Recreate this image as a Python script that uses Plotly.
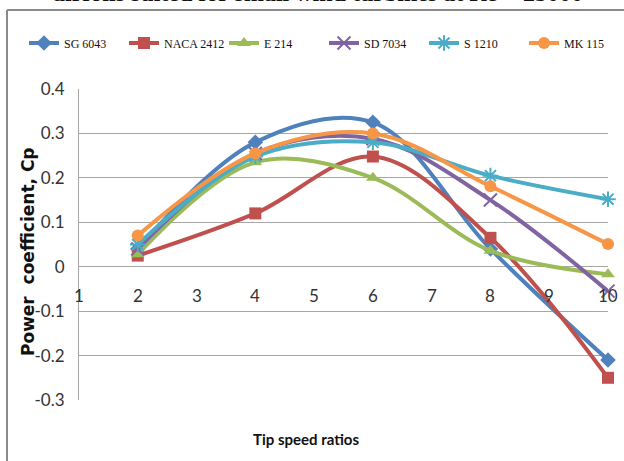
import plotly.graph_objects as go

# Tip speed ratios and power coefficient per airfoil
tsr = [2, 4, 6, 8, 10]
sg6043 = [0.04, 0.28, 0.325, 0.04, -0.21]
naca2412 = [0.025, 0.12, 0.248, 0.065, -0.25]
e214 = [0.028, 0.235, 0.20, 0.036, -0.017]
sd7034 = [0.04, 0.255, 0.288, 0.15, -0.055]
s1210 = [0.05, 0.248, 0.28, 0.205, 0.152]
mk115 = [0.07, 0.255, 0.30, 0.181, 0.051]

series = [
    ("SG 6043", sg6043, "#4F81BD", "diamond"),
    ("NACA 2412", naca2412, "#C0504D", "square"),
    ("E 214", e214, "#9BBB59", "triangle-up"),
    ("SD 7034", sd7034, "#8064A2", "x-thin-open"),
    ("S 1210", s1210, "#4BACC6", "asterisk-open"),
    ("MK 115", mk115, "#F79646", "circle"),
]

x_ticks = list(range(1, 11))
y_ticks = [0.4, 0.3, 0.2, 0.1, 0, -0.1, -0.2, -0.3]
y_tick_text = ["0.4", "0.3", "0.2", "0.1", "0", "-0.1", "-0.2", "-0.3"]

tick_font = "Lato, sans-serif"

fig = go.Figure()
for name, vals, color, sym in series:
    open_sym = sym.endswith("open")
    fig.add_trace(go.Scatter(
        x=tsr, y=vals, name=name, mode="lines+markers",
        line=dict(color=color, width=4, shape="spline", smoothing=1),
        marker=dict(symbol=sym, size=12 if not open_sym else 13, color=color,
                    line=dict(color=color, width=2 if open_sym else 0)),
        cliponaxis=False,
    ))

# x tick labels sit just under the zero line
for t in x_ticks:
    fig.add_annotation(x=t, y=-0.065, text=str(t), showarrow=False,
                       xref="x", yref="y",
                       font=dict(family=tick_font, size=17, color="#333"))

# axis titles
fig.add_annotation(x=(28 - 79) / 529, xanchor="center", y=(400 - 252) / 311,
                   yanchor="middle", xref="paper", yref="paper",
                   text="<b>Power  coefficient, Cp</b>", textangle=-90, showarrow=False,
                   font=dict(family="DejaVu Sans", size=17, color="#111"))
fig.add_annotation(x=(306 - 79) / 529, xanchor="center", y=-0.16, xref="paper", yref="paper",
                   text="<b>Tip speed ratios</b>", showarrow=False,
                   font=dict(family=tick_font, size=15, color="#111"))

# heading line above the chart frame
fig.add_annotation(x=(318 - 79) / 529, xanchor="center", y=1.262, xref="paper", yref="paper",
                   yanchor="bottom",
                   text="<b>airfoils suited for small wind turbines at Re = 25000</b>",
                   showarrow=False,
                   font=dict(family="Liberation Serif, serif", size=24, color="#111"))

# chart frame (top and left edges)
frame_top = 1 + (89 - 10) / 311
frame_left = (7 - 79) / 529
fig.add_shape(type="line", xref="paper", yref="paper",
              x0=frame_left, x1=1.2, y0=frame_top, y1=frame_top,
              line=dict(color="#8a8a8a", width=2))
fig.add_shape(type="line", xref="paper", yref="paper",
              x0=frame_left, x1=frame_left, y0=frame_top, y1=-0.4,
              line=dict(color="#8a8a8a", width=2))

fig.update_layout(
    width=624, height=461,
    margin=dict(l=79, r=16, t=89, b=61),
    paper_bgcolor="white", plot_bgcolor="white",
    showlegend=True,
    legend=dict(orientation="h", x=(34 - 79) / 529, xanchor="left", y=1.148, yanchor="middle",
                entrywidth=55, entrywidthmode="pixels", itemwidth=30,
                font=dict(family="Liberation Serif, serif", size=12, color="#111"),
                bgcolor="rgba(0,0,0,0)"),
    xaxis=dict(range=[1, 10], showgrid=False, zeroline=False, showline=False,
               showticklabels=False, ticks=""),
    yaxis=dict(range=[-0.3, 0.4], tickvals=y_ticks, ticktext=y_tick_text,
               showgrid=True, gridcolor="#a6a6a6", gridwidth=1,
               zeroline=True, zerolinecolor="#a6a6a6", zerolinewidth=1,
               showline=True, linecolor="#a6a6a6", linewidth=1,
               ticks="", ticklabelstandoff=10,
               tickfont=dict(family=tick_font, size=17, color="#333")),
)

fig.write_html("out.html")
